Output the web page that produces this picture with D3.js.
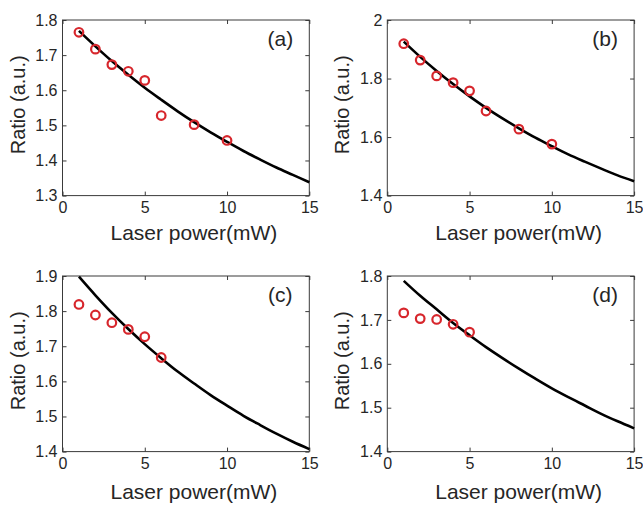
<!DOCTYPE html>
<meta charset="utf-8">

<style>

body { margin: 0; background: #fff; }

text { font-family: Arial, "Liberation Sans", sans-serif; fill: #262626; }

.frame { fill: none; stroke: #3a3a3a; stroke-width: 1; }

.tick line { stroke: #3a3a3a; }

.fit { fill: none; stroke: #000; stroke-width: 2.6; }

.dot { fill: none; stroke: #d7262c; stroke-width: 2.2; }

</style>

<svg width="643" height="506"></svg>

<script src="https://d3js.org/d3.v7.min.js"></script>

<script>

// measured points (laser power in mW, ratio in a.u.)
var powerA = [1, 2, 3, 4, 5, 6, 8, 10];
var ratioA = [1.765, 1.717, 1.673, 1.654, 1.628, 1.528, 1.502, 1.457];

var powerB = [1, 2, 3, 4, 5, 6, 8, 10];
var ratioB = [1.919, 1.863, 1.809, 1.786, 1.758, 1.689, 1.627, 1.576];

var powerC = [1, 2, 3, 4, 5, 6];
var ratioC = [1.819, 1.789, 1.767, 1.748, 1.727, 1.668];

var powerD = [1, 2, 3, 4, 5];
var ratioD = [1.716, 1.703, 1.701, 1.690, 1.672];

var fitPower = [1, 2, 3, 4, 5, 6, 7, 8, 9, 10, 11, 12, 13, 14, 15];
var fitA = [1.769, 1.725, 1.683, 1.644, 1.607, 1.573, 1.540, 1.509, 1.480, 1.453, 1.427, 1.403, 1.380, 1.359, 1.338];
var fitB = [1.926, 1.874, 1.826, 1.781, 1.739, 1.700, 1.664, 1.630, 1.598, 1.569, 1.541, 1.516, 1.492, 1.469, 1.449];
var fitC = [1.898, 1.845, 1.795, 1.749, 1.706, 1.666, 1.628, 1.594, 1.561, 1.531, 1.502, 1.476, 1.451, 1.428, 1.407];
var fitD = [1.789, 1.755, 1.724, 1.693, 1.665, 1.638, 1.613, 1.589, 1.566, 1.544, 1.524, 1.505, 1.486, 1.469, 1.453];

var xTicks = [0, 5, 10, 15];
var yTicksA = [1.3, 1.4, 1.5, 1.6, 1.7, 1.8];
var yTicksB = [1.4, 1.6, 1.8, 2.0];
var yTicksC = [1.4, 1.5, 1.6, 1.7, 1.8, 1.9];
var yTicksD = [1.4, 1.5, 1.6, 1.7, 1.8];

var panels = [
  { tag: "(a)", px: powerA, py: ratioA, fit: fitA, yt: yTicksA, col: 0, row: 0 },
  { tag: "(b)", px: powerB, py: ratioB, fit: fitB, yt: yTicksB, col: 1, row: 0 },
  { tag: "(c)", px: powerC, py: ratioC, fit: fitC, yt: yTicksC, col: 0, row: 1 },
  { tag: "(d)", px: powerD, py: ratioD, fit: fitD, yt: yTicksD, col: 1, row: 1 }
];

var lefts = [62.5, 387.3], tops = [20, 276];
var pw = 246.8, ph = 175.6;

var svg = d3.select("svg");

var fmt = function(d) { return String(+d.toFixed(1)); };

panels.forEach(function(p) {
  var x0 = lefts[p.col], y0 = tops[p.row];

  var x = d3.scaleLinear().domain([0, 15]).range([x0, x0 + pw]);
  var y = d3.scaleLinear().domain(d3.extent(p.yt)).range([y0 + ph, y0]);

  var g = svg.append("g");

  // ticks pointing inward on all four sides
  g.append("g").attr("transform", "translate(0," + (y0 + ph) + ")")
      .call(d3.axisBottom(x).tickValues(xTicks).tickSize(-4).tickSizeOuter(0).tickPadding(6).tickFormat(fmt))
      .call(function(a) { a.select(".domain").remove(); a.selectAll("text").style("font-size", "16px").attr("fill", null); });

  g.append("g").attr("transform", "translate(" + x0 + ",0)")
      .call(d3.axisLeft(y).tickValues(p.yt).tickSize(-4).tickSizeOuter(0).tickPadding(5).tickFormat(fmt))
      .call(function(a) { a.select(".domain").remove(); a.selectAll("text").style("font-size", "16px").attr("fill", null); });

  g.append("g").attr("transform", "translate(0," + y0 + ")")
      .call(d3.axisTop(x).tickValues(xTicks).tickSize(-4).tickSizeOuter(0).tickFormat(""))
      .call(function(a) { a.select(".domain").remove(); });

  g.append("g").attr("transform", "translate(" + (x0 + pw) + ",0)")
      .call(d3.axisRight(y).tickValues(p.yt).tickSize(-4).tickSizeOuter(0).tickFormat(""))
      .call(function(a) { a.select(".domain").remove(); });

  g.append("rect").attr("class", "frame")
      .attr("x", x0).attr("y", y0).attr("width", pw).attr("height", ph);

  var line = d3.line()
      .x(function(d, i) { return x(fitPower[i]); })
      .y(function(d) { return y(d); })
      .curve(d3.curveCatmullRom);

  g.append("path").attr("class", "fit").attr("d", line(p.fit));

  g.selectAll("circle").data(p.py).enter().append("circle")
      .attr("class", "dot")
      .attr("cx", function(d, i) { return x(p.px[i]); })
      .attr("cy", function(d) { return y(d); })
      .attr("r", 4.3);

  g.append("text")
      .attr("x", x0 + pw - 29).attr("y", y0 + 26)
      .attr("text-anchor", "middle")
      .style("font-size", "21px")
      .text(p.tag);

  g.append("text")
      .attr("x", x0 + pw / 2 + 8).attr("y", y0 + ph + (p.row ? 47 : 44.5))
      .attr("text-anchor", "middle")
      .style("font-size", "21px")
      .text("Laser power(mW)");

  g.append("text")
      .attr("transform", "translate(" + (x0 - 38) + "," + (y0 + ph / 2 - 3) + ") rotate(-90)")
      .attr("text-anchor", "middle")
      .style("font-size", "20px")
      .text("Ratio (a.u.)");
});

</script>
